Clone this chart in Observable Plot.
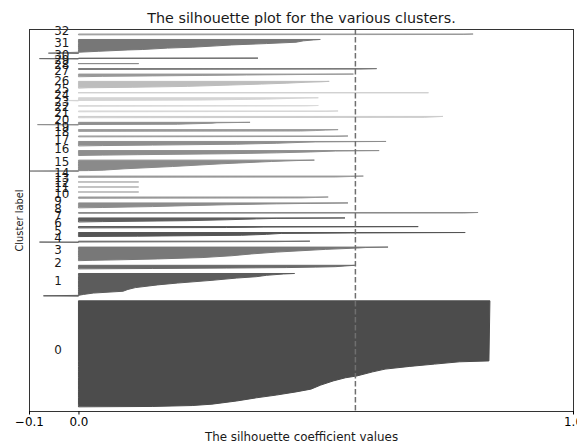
<!DOCTYPE html>
<html>
<head>
<meta charset="utf-8">
<script src="https://cdn.jsdelivr.net/npm/d3@7"></script>
<script src="https://cdn.jsdelivr.net/npm/@observablehq/plot@0.6"></script>
<style>
  html, body { margin: 0; padding: 0; background: #fff; }
  #chart { width: 577px; height: 443px; overflow: hidden; }
</style>
</head>
<body>
<div id="chart"></div>
<script>
// Cluster ids, bottom (0) to top (32)
const clusterIds = [0, 1, 2, 3, 4, 5, 6, 7, 8, 9, 10, 11, 12, 13, 14, 15, 16,
  17, 18, 19, 20, 21, 22, 23, 24, 25, 26, 27, 28, 29, 30, 31, 32];

// Number of samples in each cluster
const clusterSizes = [233, 50, 8, 30, 3, 9, 3, 9, 2, 11, 3, 1, 1, 1, 3, 25, 11,
  10, 2, 4, 6, 3, 2, 2, 7, 1, 15, 6, 2, 1, 2, 31, 2];

// Sorted silhouette values per cluster as [rank within cluster, value]
const silhouetteProfiles = [
  [[0,0.15],[2,0.23],[5,0.27],[12,0.32],[19,0.36],[25,0.40],[32,0.44],[38,0.47],[47,0.49],[56,0.515],[63,0.54],[67,0.563],[76,0.595],[82,0.62],[88,0.67],[93,0.72],[98,0.77],[100,0.83],[232,0.832]],
  [[0,-0.07],[1,0.0],[3,0.01],[6,0.03],[10,0.09],[14,0.1],[18,0.115],[24,0.16],[28,0.2],[34,0.27],[39,0.32],[42,0.36],[45,0.38],[48,0.415],[49,0.437]],
  [[0,0.15],[1,0.30],[2,0.42],[3,0.48],[4,0.52],[6,0.545],[7,0.559]],
  [[0,0.03],[1,0.08],[3,0.16],[6,0.25],[10,0.31],[14,0.35],[18,0.40],[21,0.45],[24,0.50],[27,0.565],[28,0.58],[29,0.626]],
  [[0,-0.078],[1,0.40],[2,0.468]],
  [[0,0.12],[2,0.33],[4,0.38],[6,0.41],[7,0.55],[8,0.782]],
  [[0,0.30],[1,0.375],[2,0.687]],
  [[0,0.05],[2,0.22],[4,0.30],[6,0.36],[7,0.40],[8,0.539]],
  [[0,0.78],[1,0.808]],
  [[0,0.05],[2,0.15],[4,0.22],[6,0.30],[8,0.40],[9,0.47],[10,0.545]],
  [[0,0.45],[1,0.48],[2,0.505]],
  [[0,0.121]],
  [[0,0.121]],
  [[0,0.121]],
  [[0,0.52],[1,0.55],[2,0.576]],
  [[0,-0.13],[1,0.02],[2,0.05],[5,0.094],[10,0.19],[16,0.29],[21,0.39],[23,0.44],[24,0.477]],
  [[0,0.05],[1,0.12],[3,0.30],[5,0.40],[7,0.47],[9,0.52],[10,0.608]],
  [[0,0.05],[1,0.15],[3,0.32],[5,0.40],[7,0.45],[8,0.48],[9,0.622]],
  [[0,0.52],[1,0.545]],
  [[0,0.45],[1,0.48],[2,0.50],[3,0.525]],
  [[0,-0.082],[1,0.20],[3,0.27],[4,0.28],[5,0.347]],
  [[0,0.70],[1,0.72],[2,0.737]],
  [[0,0.50],[1,0.525]],
  [[0,0.46],[1,0.485]],
  [[0,-0.025],[1,0.25],[3,0.38],[5,0.44],[6,0.485]],
  [[0,0.707]],
  [[0,0.02],[1,0.11],[3,0.22],[5,0.28],[8,0.37],[10,0.42],[12,0.46],[13,0.49],[14,0.507]],
  [[0,0.05],[1,0.15],[2,0.25],[3,0.34],[4,0.45],[5,0.556]],
  [[0,0.57],[1,0.603]],
  [[0,0.121]],
  [[0,-0.078],[1,0.363]],
  [[0,-0.06],[2,0.0],[4,0.04],[7,0.1],[8,0.13],[11,0.18],[13,0.23],[16,0.28],[18,0.31],[21,0.38],[24,0.44],[27,0.455],[29,0.475],[30,0.489]],
  [[0,0.78],[1,0.798]]
];

// Fill tone of each cluster
const clusterGrays = ["#4c4c4c", "#5c5c5c", "#6a6a6a", "#787878", "#6e6e6e",
  "#555555", "#555555", "#5e5e5e", "#8a8a8a", "#8c8c8c", "#999999", "#b0b0b0",
  "#b0b0b0", "#b0b0b0", "#9a9a9a", "#8a8a8a", "#8e8e8e", "#8e8e8e", "#9a9a9a",
  "#9a9a9a", "#8f8f8f", "#cccccc", "#d6d6d6", "#dadada", "#d4d4d4", "#cfcfcf",
  "#bdbdbd", "#999999", "#767676", "#8a8a8a", "#6a6a6a", "#777777", "#9a9a9a"];

// Mean silhouette score over all samples
const avgSilhouette = 0.559;

const xTicks = [-0.1, 0.0, 1.0];
const titleText = "The silhouette plot for the various clusters.";
const xLabelText = "The silhouette coefficient values";
const yLabelText = "Cluster label";

const labelSize = 11.9;
const yLabelSize = 9.9;
const titleSize = 14.3;

// Stack clusters vertically with a 10-sample gap between them
const gap = 10;
const rows = [];
const labelRows = [];
let yLower = gap;
clusterIds.forEach((id, i) => {
  for (const [rank, value] of silhouetteProfiles[i]) {
    rows.push({cluster: id, y: yLower + rank, x: value});
  }
  labelRows.push({cluster: id, y: yLower + 0.5 * clusterSizes[i]});
  yLower += clusterSizes[i] + gap;
});
const yMax = d3.sum(clusterSizes) + (clusterIds.length + 1) * gap;

const chart = Plot.plot({
  width: 577,
  height: 443,
  marginLeft: 29,
  marginRight: 4,
  marginTop: 29,
  marginBottom: 32,
  style: {fontFamily: "DejaVu Sans", fontSize: `${labelSize}px`, background: "#fff", color: "#000"},
  x: {domain: [-0.1, 1.0]},
  y: {domain: [0, yMax], axis: null},
  color: {type: "identity"},
  marks: [
    Plot.areaX(rows, {
      y: "y", x1: 0, x2: "x", z: "cluster",
      fill: d => clusterGrays[d.cluster],
      stroke: d => clusterGrays[d.cluster],
      strokeWidth: 1,
      curve: "linear",
      clip: true
    }),
    Plot.ruleX([avgSilhouette], {stroke: "#6f6f6f", strokeWidth: 1.5, strokeDasharray: "5.5,2.5"}),
    // cluster number, baseline at the middle of its band
    Plot.text(labelRows, {
      x: -0.05, y: "y", text: d => String(d.cluster),
      textAnchor: "start", lineAnchor: "bottom", fontSize: labelSize, fill: "#1a1a1a"
    }),
    Plot.frame({stroke: "#333"}),
    Plot.axisX({ticks: xTicks, tickFormat: d3.format(".1f"), tickSize: 3.5, tickPadding: 2.7, label: null, fontSize: labelSize}),
    Plot.text([titleText], {frameAnchor: "top", textAnchor: "middle", lineAnchor: "bottom", dy: -7, fontSize: titleSize, fill: "#1a1a1a"}),
    Plot.text([xLabelText], {frameAnchor: "bottom", textAnchor: "middle", lineAnchor: "bottom", dy: 29, fontSize: labelSize, fill: "#1a1a1a"}),
    Plot.text([yLabelText], {frameAnchor: "left", textAnchor: "middle", lineAnchor: "bottom", dx: -7, rotate: -90, fontSize: yLabelSize, fill: "#1a1a1a"})
  ]
});

document.getElementById("chart").appendChild(chart);
</script>
</body>
</html>
